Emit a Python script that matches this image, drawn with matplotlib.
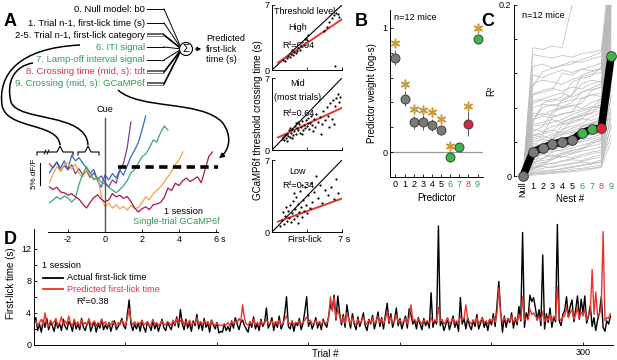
import numpy as np
import matplotlib
matplotlib.use("Agg")
import matplotlib.pyplot as plt
from matplotlib.path import Path
from matplotlib.patches import PathPatch, Circle

plt.rcParams['font.family'] = ['Liberation Sans', 'DejaVu Sans']
plt.rcParams['font.size'] = 6.5

W, H = 617, 360

GREEN_TXT = '#2f9a5a'
RED_TXT = '#d8344a'
GREEN_MK = '#3fb54c'
RED_MK = '#d9263b'
GREY_MK = '#7a7a7a'
STAR = '#c99b3c'

# ---- panel A: schematic predictor list ----
PREDICTOR_TEXT = ["0. Null model: b0", "1. Trial n-1, first-lick time (s)",
                  "2-5. Trial n-1, first-lick category", "6. ITI signal",
                  "7. Lamp-off interval signal", "8. Crossing time (mid, s): tdt",
                  "9. Crossing (mid, s): GCaMP6f"]
PREDICTOR_COLOR = ['k', 'k', 'k', GREEN_TXT, GREEN_TXT, RED_TXT, GREEN_TXT]
PREDICTOR_DOUBLE = [False, False, True, False, False, True, True]

# ---- panel A: single-trial GCaMP6f traces (% dF/F, 0.2 s steps from -3 s) ----
TRACE_T0 = -3.0
TRACE_DT = 0.2
trace_purple = [17.0, 16.0, 17.5, 15.2, 16.6, 15.5, 16.8, 14.6, 15.8, 14.2, 15.3, 13.6,
                14.8, 13.2, 14.0, 12.4, 11.3, 13.0, 12.2, 15.5, 17.2, 21.0, 27.5]
trace_blue = [14.8, 16.3, 17.5, 16.0, 17.8, 15.6, 19.2, 17.8, 18.6, 17.2, 16.0, 14.7,
              15.6, 12.8, 11.2, 14.3, 13.0, 14.6, 13.5, 15.5, 14.2, 16.5, 18.8, 20.5,
              22.3, 25.5, 29.0]
trace_orange = [12.3, 14.5, 16.3, 15.2, 16.8, 17.3, 15.8, 17.0, 14.6, 13.8, 15.5, 14.2,
                13.0, 13.8, 9.0, 6.3, 7.2, 6.0, 6.8, 5.8, 6.4, 5.5, 6.6, 5.9, 6.1, 7.4,
                8.8, 8.0, 9.6, 10.4, 11.3, 12.5, 13.8, 15.2, 16.9, 18.0, 20.0]
trace_green = [7.3, 8.0, 8.8, 8.2, 9.0, 8.5, 7.5, 8.4, 12.0, 14.5, 16.3, 14.8, 13.2, 13.6,
               12.4, 12.0, 11.2, 10.5, 9.8, 10.6, 11.6, 12.8, 14.8, 15.6, 17.2, 18.8,
               19.5, 21.0, 23.0, 22.5, 24.8, 26.5, 25.5]
trace_crimson = [11.3, 10.6, 11.2, 10.0, 9.8, 9.2, 9.6, 8.8, 8.2, 7.0, 6.0, 7.4, 8.6, 9.3,
                 8.2, 7.5, 8.0, 9.6, 8.8, 9.2, 8.4, 8.9, 7.6, 6.0, 5.0, 5.8, 6.3, 5.6,
                 6.8, 7.0, 7.4, 8.6, 11.0, 10.4, 12.2, 11.6, 12.8, 13.5, 12.6, 13.2,
                 13.8, 12.3, 15.5, 18.8, 20.0]
TRACES = [(trace_purple, '#7d3c98'), (trace_blue, '#2f6db5'), (trace_orange, '#f2a541'),
          (trace_green, '#3aa57e'), (trace_crimson, '#b3124e')]
THRESHOLD = 16.25

# ---- panel A: first-lick vs threshold crossing scatter ----
high_x = [1.1, 1.3, 1.5, 1.6, 1.8, 1.9, 2.1, 2.2, 2.4, 2.5, 2.6, 2.8, 2.9, 3.0, 3.2, 3.3,
          3.4, 3.5, 3.6, 2.0, 5.2, 5.5, 5.7, 6.0, 6.2, 6.4, 6.6, 6.7, 6.3]
high_y = [1.1, 1.0, 1.3, 1.5, 1.4, 1.7, 1.6, 1.9, 1.8, 2.1, 2.4, 2.2, 2.6, 3.0, 2.7, 3.3,
          3.5, 3.2, 3.8, 2.2, 4.2, 4.6, 5.2, 5.6, 5.9, 6.1, 6.0, 5.7, 0.4]
mid_x = [1.0, 1.1, 1.2, 1.3, 1.4, 1.5, 1.6, 1.7, 1.8, 1.9, 2.0, 2.1, 2.2, 2.3, 2.4, 2.5,
         2.6, 2.7, 2.8, 2.9, 3.0, 3.1, 3.2, 3.3, 3.4, 3.5, 3.6, 3.7, 3.8, 3.9, 4.0, 4.2,
         4.3, 4.4, 4.6, 4.8, 5.0, 5.1, 5.3, 5.5, 5.6, 5.8, 6.0, 6.1, 6.3, 6.4, 6.6, 6.7,
         6.8, 2.0, 1.5, 3.0, 4.1, 4.9, 5.7, 6.2, 2.6, 3.6, 1.8, 2.4]
mid_y = [1.1, 1.3, 1.0, 1.5, 1.2, 1.6, 1.4, 1.9, 1.3, 1.7, 2.0, 1.5, 1.8, 2.3, 1.6, 2.1,
         1.9, 2.5, 1.7, 2.2, 2.8, 1.9, 2.4, 2.1, 2.9, 2.3, 3.1, 2.0, 2.6, 3.3, 2.4, 3.0,
         2.2, 3.5, 2.7, 3.2, 2.5, 3.8, 2.9, 4.2, 3.3, 4.6, 3.0, 4.9, 4.3, 5.1, 5.4, 4.7,
         5.2, 1.2, 0.9, 1.6, 1.8, 1.6, 2.2, 2.5, 2.7, 2.6, 2.1, 2.6]
low_x = [0.8, 1.0, 1.2, 1.3, 1.5, 1.6, 1.7, 1.8, 1.9, 2.0, 2.1, 2.2, 2.3, 2.4, 2.5, 2.6,
         2.7, 2.8, 2.9, 3.0, 3.1, 3.2, 3.3, 3.4, 3.5, 3.6, 3.8, 3.9, 4.0, 4.2, 4.4, 4.6,
         4.8, 5.0, 5.3, 5.6, 5.9, 6.2, 6.4, 6.6, 1.4, 2.2, 3.0, 2.6, 1.1]
low_y = [0.6, 1.2, 0.8, 1.6, 1.1, 2.0, 1.4, 2.6, 1.0, 1.8, 3.0, 1.3, 2.2, 3.4, 1.6, 2.7,
         1.9, 4.0, 2.4, 1.5, 3.1, 2.0, 4.4, 2.6, 1.8, 3.6, 2.3, 4.8, 2.9, 3.9, 5.4, 3.3,
         4.6, 2.8, 4.1, 3.6, 4.4, 3.2, 5.2, 3.8, 2.4, 3.8, 4.6, 0.9, 1.9]
SCATTER_SETS = [(high_x, high_y), (mid_x, mid_y), (low_x, low_y)]
FIT_INTERCEPT = [0.36, 0.95, 0.80]
FIT_SLOPE = [0.73, 0.45, 0.35]
SCATTER_LABELS = [["Threshold level:", "High", "R²=0.94"],
                  ["Mid", "(most trials)", "R²=0.64"],
                  ["Low", "R²=0.34"]]

# ---- panel B: predictor weights ----
predictors = [0, 1, 2, 3, 4, 5, 6, 7, 8, 9]
weights = [0.76, 0.43, 0.24, 0.24, 0.22, 0.18, -0.04, 0.04, 0.23, 0.91]
weight_err = [0.06, 0.06, 0.05, 0.06, 0.05, 0.04, 0.04, 0.03, 0.10, 0.04]
star_pred = [0, 1, 2, 3, 4, 5, 6, 8, 9]
star_y = [0.88, 0.55, 0.35, 0.34, 0.32, 0.27, 0.05, 0.37, 1.00]
pred_colors = [GREY_MK] * 6 + [GREEN_MK, GREEN_MK, RED_MK, GREEN_MK]
tick_colors = ['k'] * 6 + [GREEN_TXT, GREEN_TXT, RED_TXT, GREEN_TXT]

# ---- panel C: nested model R^2 ----
nest_labels = ['Null', '1', '2', '3', '4', '5', '6', '7', '8', '9']
nest_mean = [0, 0.028, 0.033, 0.037, 0.040, 0.042, 0.050, 0.055, 0.056, 0.140]
nest_sessions = [
    [0, .150, .148, .152, .150, .200, .205, .210, .212, .260],
    [0, .142, .140, .138, .141, .139, .143, .145, .147, .230],
    [0, .128, .131, .126, .130, .134, .133, .137, .140, .215],
    [0, .118, .115, .120, .124, .121, .125, .123, .126, .250],
    [0, .108, .112, .110, .107, .113, .116, .119, .121, .198],
    [0, .096, .100, .103, .099, .104, .102, .108, .111, .240],
    [0, .088, .090, .094, .097, .092, .098, .101, .104, .182],
    [0, .080, .084, .082, .086, .089, .091, .095, .097, .225],
    [0, .074, .071, .077, .080, .083, .079, .086, .090, .165],
    [0, .066, .070, .068, .073, .075, .078, .081, .080, .210],
    [0, .060, .063, .066, .062, .068, .071, .074, .077, .150],
    [0, .055, .052, .058, .061, .064, .067, .065, .070, .190],
    [0, .048, .051, .054, .050, .056, .059, .062, .066, .135],
    [0, .042, .046, .044, .048, .051, .054, .057, .059, .175],
    [0, .038, .036, .040, .043, .046, .044, .050, .053, .120],
    [0, .034, .037, .035, .039, .041, .045, .048, .051, .205],
    [0, .030, .033, .031, .034, .037, .040, .043, .046, .105],
    [0, .026, .028, .031, .029, .033, .036, .039, .041, .160],
    [0, .022, .025, .023, .027, .030, .032, .035, .038, .092],
    [0, .019, .021, .024, .022, .026, .029, .031, .034, .145],
    [0, .016, .018, .020, .023, .021, .025, .028, .030, .080],
    [0, .013, .016, .014, .018, .020, .023, .026, .028, .125],
    [0, .011, .013, .015, .017, .019, .018, .022, .025, .068],
    [0, .009, .011, .010, .013, .015, .017, .020, .022, .110],
    [0, .007, .009, .011, .012, .014, .016, .015, .019, .058],
    [0, .005, .007, .006, .009, .011, .013, .015, .017, .095],
    [0, .004, .005, .007, .008, .010, .012, .014, .016, .048],
    [0, .003, .004, .005, .006, .008, .009, .011, .013, .075],
    [0, .002, .003, .004, .005, .006, .008, .009, .011, .040],
    [0, .001, .002, .003, .004, .005, .006, .008, .010, .062],
    [0, .062, .085, .090, .088, .094, .118, .122, .125, .235],
    [0, .045, .047, .070, .072, .075, .090, .095, .093, .185],
    [0, .025, .040, .043, .060, .062, .066, .080, .083, .140],
    [0, .095, .098, .101, .120, .118, .125, .128, .132, .245],
    [0, .012, .030, .033, .035, .050, .052, .055, .072, .115],
    [0, .070, .073, .071, .090, .095, .108, .112, .110, .200],
    [0, .052, .058, .075, .079, .082, .085, .100, .104, .220],
    [0, .035, .044, .049, .052, .066, .070, .073, .088, .255],
    [0, .020, .027, .038, .041, .044, .058, .062, .064, .170],
    [0, .085, .089, .087, .093, .110, .114, .117, .128, .260],
    [0, .040, .043, .041, .055, .058, .061, .069, .075, .210],
    [0, .058, .060, .063, .066, .072, .076, .079, .091, .155],
    [0, .015, .020, .028, .031, .036, .042, .045, .049, .230],
    [0, .030, .031, .047, .049, .053, .057, .061, .063, .195],
    [0, .008, .015, .019, .026, .029, .033, .037, .043, .140],
    [0, .065, .080, .084, .081, .086, .098, .103, .108, .250],
    [0, .024, .026, .029, .044, .047, .049, .054, .058, .100],
    [0, .047, .049, .052, .064, .067, .073, .077, .079, .245],
    [0, .010, .012, .022, .025, .027, .031, .040, .044, .180],
    [0, .105, .122, .126, .129, .131, .136, .140, .145, .270],
]

# ---- panel D: one session, first-lick times ----
actual = [
    2.9, 3.4, 1.8, 2.6, 1.6, 3.1, 2.2, 3.3, 1.9, 2.8, 2.4, 1.7, 3.0, 2.1, 2.7, 1.8, 3.2, 2.3, 1.9, 2.9,
    2.5, 1.7, 3.1, 2.0, 2.6, 1.9, 3.3, 2.2, 1.8, 2.7, 3.0, 1.7, 2.4, 2.9, 1.6, 2.6, 2.1, 3.2, 1.9, 2.5,
    2.0, 2.8, 1.7, 2.5, 3.0, 1.9, 2.3, 2.7, 3.3, 2.4, 2.0, 3.8, 5.6, 2.6, 1.8, 2.6, 2.0, 2.8, 1.7, 3.0,
    2.2, 1.6, 2.9, 2.4, 1.8, 3.1, 2.0, 2.7, 1.7, 2.5, 3.2, 2.1, 1.8, 2.9, 2.3, 1.9, 3.0, 2.4, 3.5, 2.2,
    4.4, 2.6, 1.9, 3.2, 2.1, 2.8, 1.7, 3.0, 2.4, 3.8, 2.0, 2.9, 1.8, 3.3, 2.2, 2.7, 1.6, 3.1, 2.5, 2.0,
    2.8, 1.5, 1.7, 1.6, 2.6, 1.8, 2.3, 1.7, 3.0, 2.1, 3.4, 2.6, 1.9, 2.8, 3.1, 2.4, 2.0, 1.6, 2.9, 2.2,
    3.5, 2.0, 2.7, 1.8, 3.2, 2.3, 2.8, 4.6, 2.1, 2.6, 3.4, 1.8, 2.9, 2.2, 3.6, 2.0, 2.5, 3.9, 6.0, 2.3,
    2.0, 3.0, 1.7, 2.8, 2.4, 3.3, 1.9, 2.7, 4.2, 6.0, 2.3, 3.1, 2.0, 2.6, 3.4, 2.1, 2.9, 1.9, 3.2, 2.6,
    2.2, 3.6, 5.0, 4.4, 6.2, 3.1, 6.1, 4.0, 2.5, 3.8, 2.2, 5.0, 3.3, 2.1, 3.9, 2.6, 1.9, 3.5, 2.3, 3.0,
    4.0, 2.4, 1.8, 3.2, 2.6, 3.7, 2.0, 2.9, 4.1, 2.3, 3.4, 2.0, 3.7, 5.2, 2.7, 3.9, 2.2, 3.1, 4.6, 2.4,
    3.3, 2.0, 2.8, 3.6, 2.1, 4.5, 3.8, 2.6, 3.1, 2.0, 3.4, 2.6, 1.9, 3.3, 2.4, 3.0, 2.1, 6.5, 2.2, 3.1,
    2.6, 14.8, 2.4, 3.0, 1.8, 2.5, 3.3, 1.9, 2.7, 3.6, 2.2, 2.9, 1.7, 5.9, 2.6, 3.3, 2.0, 3.4, 2.4, 1.9,
    3.1, 2.3, 3.8, 2.0, 2.7, 3.4, 2.2, 2.9, 1.8, 3.2, 2.5, 3.9, 2.3, 5.0, 7.9, 4.2, 1.6, 3.6, 2.2, 3.3,
    2.8, 4.0, 2.1, 3.4, 2.5, 4.8, 3.0, 14.0, 2.2, 4.0, 3.3, 6.2, 5.4, 5.9, 4.6, 3.1, 4.4, 2.4, 11.2, 2.0,
    3.9, 2.8, 4.6, 2.2, 3.5, 2.9, 15.0, 3.0, 2.4, 3.8, 4.3, 6.0, 3.5, 4.8, 5.6, 2.9, 4.4, 6.1, 3.2, 5.7,
    4.0, 6.1, 2.7, 3.6, 4.9, 2.3, 3.4, 1.8, 3.1, 4.0, 6.0, 2.2, 1.7, 3.0, 2.6, 3.6]
predicted = [
    2.6, 3.0, 2.4, 2.8, 3.2, 2.5, 4.0, 2.7, 2.3, 3.1, 2.6, 2.9, 3.3, 2.4, 2.8, 3.5, 2.5, 3.0, 2.6, 3.6,
    2.7, 2.4, 3.2, 2.5, 2.9, 2.3, 3.1, 2.6, 2.8, 2.4, 3.3, 2.5, 2.7, 3.0, 2.4, 2.8, 2.5, 3.2, 2.6, 2.9,
    2.4, 2.7, 2.5, 3.0, 2.6, 2.4, 2.8, 2.5, 3.1, 2.7, 2.4, 3.3, 4.5, 3.0, 2.5, 2.9, 2.5, 2.8, 2.6, 3.1,
    2.5, 2.7, 2.9, 2.4, 2.6, 3.2, 2.5, 2.8, 2.4, 2.7, 3.0, 2.6, 2.5, 2.9, 2.7, 2.4, 3.1, 2.6, 3.3, 2.7,
    3.0, 3.2, 2.5, 2.9, 2.6, 3.1, 2.4, 2.8, 2.7, 3.4, 2.6, 2.9, 2.5, 3.0, 2.7, 2.9, 2.4, 3.0, 2.6, 2.5,
    2.7, 2.4, 2.5, 2.4, 2.6, 2.5, 2.8, 2.4, 2.9, 2.6, 3.0, 2.8, 3.3, 2.9, 5.0, 3.3, 2.6, 2.5, 2.8, 2.6,
    3.2, 2.5, 2.8, 2.4, 3.0, 2.6, 2.8, 3.2, 2.6, 2.7, 3.0, 2.5, 2.9, 2.6, 3.1, 2.5, 2.7, 3.2, 3.6, 2.8,
    2.6, 2.9, 2.5, 2.8, 2.7, 3.0, 2.6, 2.8, 3.1, 3.5, 2.8, 3.0, 2.6, 2.7, 3.1, 2.6, 2.9, 2.5, 3.0, 2.8,
    2.7, 3.4, 6.0, 4.2, 5.9, 3.3, 4.4, 3.6, 2.8, 3.5, 2.7, 4.0, 3.3, 2.6, 3.4, 2.8, 2.5, 3.2, 2.7, 3.0,
    3.5, 2.8, 2.6, 3.1, 2.7, 3.4, 2.6, 3.0, 3.6, 2.8, 3.2, 2.6, 3.3, 4.1, 2.9, 3.5, 2.7, 3.0, 3.8, 2.8,
    3.1, 2.7, 2.9, 3.3, 2.6, 3.4, 5.0, 3.0, 3.2, 2.7, 3.3, 2.9, 2.6, 3.1, 2.8, 3.0, 2.7, 3.4, 2.8, 3.1,
    2.9, 4.7, 3.0, 3.2, 2.6, 2.9, 3.4, 2.7, 2.9, 3.3, 2.8, 3.0, 2.6, 3.6, 3.1, 3.3, 5.0, 3.2, 2.9, 2.6,
    3.1, 2.8, 3.4, 2.6, 3.0, 3.3, 2.8, 3.0, 2.6, 3.2, 2.9, 3.4, 2.8, 4.0, 7.1, 3.8, 2.8, 3.4, 2.9, 3.2,
    3.0, 3.6, 2.8, 3.3, 2.9, 3.8, 3.2, 6.0, 3.0, 3.5, 3.1, 4.5, 3.8, 4.0, 3.6, 3.2, 3.6, 3.0, 4.2, 2.9,
    3.4, 3.1, 3.8, 2.9, 3.6, 3.2, 7.2, 3.4, 3.0, 3.5, 3.6, 4.8, 3.4, 4.0, 4.4, 3.2, 3.8, 4.6, 3.3, 4.1,
    3.6, 4.5, 3.1, 3.7, 4.2, 9.4, 3.8, 6.6, 3.5, 3.9, 4.8, 14.1, 3.0, 3.4, 3.3, 3.9]


fig = plt.figure(figsize=(W / 100, H / 100), dpi=100)

# overlay in pixel coordinates for schematic parts and free text
ov = fig.add_axes([0, 0, 1, 1])
ov.set_xlim(0, W)
ov.set_ylim(H, 0)
ov.axis('off')


def px_axes(x0, y0, x1, y1):
    ax = fig.add_axes([x0 / W, 1 - y1 / H, (x1 - x0) / W, (y1 - y0) / H])
    ax.patch.set_alpha(0)
    ax.tick_params(direction='in', length=2.5, width=0.6, labelsize=6.5, pad=2)
    for s in ax.spines.values():
        s.set_linewidth(0.7)
    return ax


def curve(points, codes, lw=1.1):
    ov.add_patch(PathPatch(Path(points, codes), fc='none', ec='k', lw=lw))


# panel letters
for letter, x, y in [('A', 4, 22), ('B', 355, 22), ('C', 481, 22), ('D', 4, 240)]:
    ov.text(x, y, letter, fontsize=13, fontweight='bold', va='center', ha='left')

# ---- A: schematic ----
row_y = [9, 23, 35, 47, 60, 72, 84]
cx, cy, r = 186, 49, 6.5
for txt, col, dbl, y in zip(PREDICTOR_TEXT, PREDICTOR_COLOR, PREDICTOR_DOUBLE, row_y):
    ov.text(145, y, txt, color=col, fontsize=6.8, ha='right', va='center')
    end_y = cy + (y - cy) * 0.12
    if dbl:
        ov.plot([147, 164], [y, y], color='#444', lw=2.6, solid_capstyle='butt')
        ov.plot([147, 164], [y, y], color='white', lw=1.0, solid_capstyle='butt')
    else:
        ov.plot([147, 164], [y, y], color='k', lw=0.7)
    ov.plot([164, cx - r], [y, end_y], color='k', lw=0.7 if not dbl else 1.2)
ov.add_patch(Circle((cx, cy), r, fc='white', ec='k', lw=0.8, zorder=3))
ov.text(cx, cy + 0.5, 'Σ', ha='center', va='center', fontsize=8, zorder=4)
ov.annotate('', xy=(204, cy), xytext=(cx + r, cy),
            arrowprops=dict(arrowstyle='-|>', lw=0.7, color='k', mutation_scale=6))
ov.text(206, cy, 'Predicted\nfirst-lick\ntime (s)', fontsize=6.6, ha='left', va='center',
        linespacing=1.15)

# curved connectors
M, C = Path.MOVETO, Path.CURVE4
curve([(80, 45), (18, 48), (-2, 75), (2, 105), (6, 130), (58, 122), (60, 145)],
      [M, C, C, C, C, C, C])
curve([(33, 63), (14, 66), (6, 82), (11, 102), (18, 122), (86, 112), (88, 145)],
      [M, C, C, C, C, C, C])
curve([(118, 90), (140, 110), (200, 100), (222, 122), (232, 135), (230, 148), (222, 156)],
      [M, C, C, C, C, C, C])
ov.annotate('', xy=(217, 160), xytext=(223, 155),
            arrowprops=dict(arrowstyle='-|>', lw=1.0, color='k', mutation_scale=7))

# braces over baseline window
for x0, xm, x1 in [(37, 60, 73), (78, 88, 99)]:
    ov.plot([x0, x0, xm - 3, xm, xm + 3, x1, x1], [155, 152, 152, 146, 152, 152, 155],
            color='k', lw=0.8)
ov.plot([44, 46], [154, 150], color='k', lw=0.7)
ov.plot([47, 49], [154, 150], color='k', lw=0.7)

# scale bar
ov.plot([40, 40], [163, 185], color='k', lw=0.8)
ov.text(35, 174, '5% dF/F', rotation=90, fontsize=5.8, ha='center', va='center')

# traces axis
axA = px_axes(47.6, 105, 217.9, 232)
axA.set_xlim(-3.1, 6.1)
axA.set_ylim(0, 31.75)
for t_vals, col in TRACES:
    tt = TRACE_T0 + TRACE_DT * np.arange(len(t_vals))
    axA.plot(tt, t_vals, color=col, lw=0.9)
axA.plot([0, 0], [0, 28.5], color='#555555', lw=1.0)
axA.plot([0.7, 6.1], [THRESHOLD, THRESHOLD], color='k', lw=2.6, dashes=(2.3, 1.5))
for s in ['top', 'right', 'left']:
    axA.spines[s].set_visible(False)
axA.set_yticks([])
axA.set_xticks([-2, 0, 2, 4, 6])
axA.set_xticklabels(['-2', '0', '2', '4', '6'])
ov.text(221, 239.5, 's', fontsize=6.5, ha='left', va='center')
ov.text(105, 110, 'Cue', fontsize=6.6, ha='center', va='center')
ov.text(203, 212, '1 session', fontsize=6.6, ha='right', va='center')
ov.text(220, 222, 'Single-trial GCaMP6f', fontsize=6.6, ha='right', va='center', color=GREEN_TXT)

# scatter panels
boxes = [(5, 70), (78, 150), (160, 232)]
label_y = [[12, 28, 45], [84, 97, 113], [172, 185]]
for i, ((sx, sy), (y0, y1)) in enumerate(zip(SCATTER_SETS, boxes)):
    ax = px_axes(272, y0, 342, y1)
    ax.set_xlim(0, 7)
    ax.set_ylim(0, 7)
    ax.plot([0, 7], [0, 7], color='k', lw=0.8)
    fx = np.array([0.6, 7.0])
    ax.plot(fx, FIT_INTERCEPT[i] + FIT_SLOPE[i] * fx, color='#e8352b', lw=1.4)
    ax.scatter(sx, sy, s=2.5, color='k', zorder=3, linewidths=0)
    for s in ['top', 'right']:
        ax.spines[s].set_visible(False)
    ax.set_yticks([0, 7])
    ax.set_yticklabels(['0', '7'])
    ax.set_xticks([0, 3.5, 7])
    ax.set_xticklabels([])
    for j, (txt, yy) in enumerate(zip(SCATTER_LABELS[i], label_y[i])):
        if txt.startswith('Threshold'):
            ov.text(274, yy, txt, fontsize=6.5, ha='left', va='center')
        else:
            ov.text(298, yy, txt, fontsize=6.5, ha='center', va='center')
ov.text(305, 239, 'First-lick', fontsize=6.6, ha='center', va='center')
ov.text(344, 239, '7 s', fontsize=6.6, ha='center', va='center')
ov.text(258, 120, 'GCaMP6f threshold crossing time (s)', rotation=90, fontsize=7,
        ha='center', va='center')

# ---- B ----
axB = px_axes(390, 10, 483, 177)
axB.set_xlim(-0.6, 9.6)
axB.set_ylim(-0.192, 1.144)
axB.axhline(0, color='#9a9a9a', lw=0.9, zorder=1)
for p, w, e, c in zip(predictors, weights, weight_err, pred_colors):
    axB.errorbar(p, w, yerr=e, fmt='o', ms=6.5, color=c, mec='#333333', mew=0.6,
                 ecolor='#555555', elinewidth=0.7, capsize=0, zorder=3)
axB.scatter(star_pred, star_y, marker=(6, 2, 0), s=38, color=STAR, linewidths=1.1, zorder=3)
for s in ['top', 'right']:
    axB.spines[s].set_visible(False)
axB.set_xticks(predictors)
axB.set_xticklabels([str(p) for p in predictors])
for lab, c in zip(axB.get_xticklabels(), tick_colors):
    lab.set_color(c)
axB.set_yticks([-0.2, 0, 0.2, 0.4, 0.6, 0.8, 1.0])
axB.set_yticklabels(['', '0', '', '', '', '', '1'])
axB.set_ylabel('Predictor weight (log-s)', fontsize=7, labelpad=4)
axB.set_xlabel('Predictor', fontsize=7, labelpad=3)
ov.text(394, 17, 'n=12 mice', fontsize=6.6, ha='left', va='center')

# ---- C ----
axC = px_axes(514, 5, 617, 176)
axC.set_xlim(-0.92, 9.6)
axC.set_ylim(0, 0.2)
nx = np.arange(len(nest_labels))
for row in nest_sessions:
    axC.plot(nx, row, color='#b8b8b8', lw=0.5, zorder=1)
axC.plot(nx, nest_mean, color='k', lw=5.5, zorder=2, clip_on=False, solid_capstyle='round')
for xi, yi, c in zip(nx, nest_mean, [GREY_MK] + pred_colors[1:]):
    axC.plot(xi, yi, 'o', ms=7, color=c, mec='#333333', mew=0.6, zorder=3, clip_on=False)
for s in ['top', 'right', 'bottom']:
    axC.spines[s].set_visible(False)
axC.set_xticks(nx)
axC.set_xticklabels(nest_labels)
axC.tick_params(axis='x', length=0, pad=4)
xl = axC.get_xticklabels()
xl[0].set_rotation(90)
xl[0].set_va('top')
for lab, c in zip(xl, tick_colors):
    lab.set_color(c)
axC.set_yticks([0, 0.04, 0.08, 0.12, 0.16, 0.2])
axC.set_yticklabels(['0', '', '', '', '', '0.2'])
axC.set_ylabel('R²', fontsize=7, labelpad=2)
ov.text(570, 199, 'Nest #', fontsize=7, ha='center', va='center')
ov.text(522, 16, 'n=12 mice', fontsize=6.6, ha='left', va='center')

# ---- D ----
axD = px_axes(34, 222, 613, 345)
trials = np.arange(len(actual))
axD.plot(trials, actual, color='k', lw=1.0)
axD.plot(trials, predicted, color='#e8352b', lw=1.0)
axD.set_xlim(0, 316.4)
axD.set_ylim(0, 15.3)
for s in ['top', 'right']:
    axD.spines[s].set_visible(False)
axD.spines['left'].set_bounds(0, 14.4)
axD.set_yticks([0, 4, 8, 12])
axD.set_yticks([2, 6, 10], minor=True)
axD.tick_params(which='minor', direction='in', length=2.5, width=0.6)
axD.set_xticks([50, 100, 150, 200, 250, 300])
axD.set_xticklabels(['', '', '', '', '', '300'])
axD.set_ylabel('First-lick time (s)', fontsize=7, labelpad=4)
ov.text(325, 354, 'Trial #', fontsize=7, ha='center', va='center')
ov.text(42, 266, '1 session', fontsize=6.6, ha='left', va='center')
ov.plot([43, 63], [278, 278], color='k', lw=1.3)
ov.text(67, 278, 'Actual first-lick time', fontsize=6.6, ha='left', va='center')
ov.plot([43, 63], [289, 289], color='#e8352b', lw=1.3)
ov.text(67, 289, 'Predicted first-lick time', fontsize=6.6, ha='left', va='center',
        color=RED_TXT)
ov.text(76, 302, 'R²=0.38', fontsize=6.6, ha='left', va='center')

fig.savefig('out.png', dpi=100)
